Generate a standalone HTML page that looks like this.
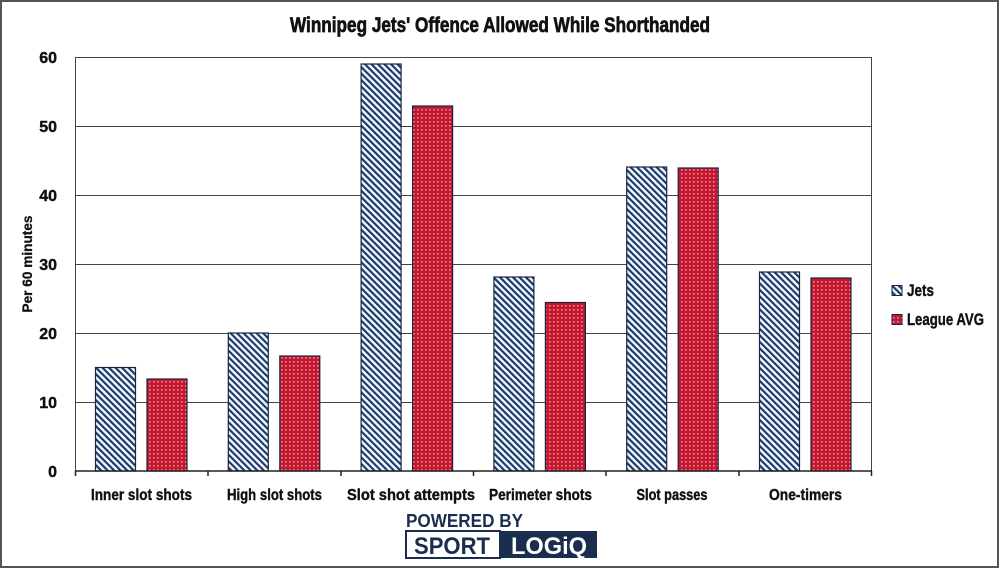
<!DOCTYPE html>
<html><head><meta charset="utf-8"><style>
html,body{margin:0;padding:0;background:#fff;}
svg{display:block;}
text{font-family:"Liberation Sans Narrow","Liberation Sans",sans-serif;font-weight:bold;fill:#111;}
</style></head><body>
<svg width="1000" height="569" viewBox="0 0 1000 569" xmlns="http://www.w3.org/2000/svg">
<defs>
<pattern id="stripe" patternUnits="userSpaceOnUse" width="4.6" height="4.6" patternTransform="rotate(-45)">
<rect width="4.6" height="4.6" fill="#eaf5fd"/>
<rect x="0" y="0" width="2.1" height="4.6" fill="#1c3563"/>
</pattern>
<pattern id="dots" patternUnits="userSpaceOnUse" width="4" height="4">
<rect width="4" height="4" fill="#c3182f"/>
<rect x="1" y="1" width="1.6" height="1.6" fill="#ee8a92"/>
</pattern>
</defs>
<rect x="0" y="0" width="1000" height="569" fill="#fff"/>
<rect x="1" y="1" width="997" height="566" fill="none" stroke="#555" stroke-width="2"/>

<text x="500" y="32" font-size="21" text-anchor="middle" textLength="420" lengthAdjust="spacingAndGlyphs" stroke="#111" stroke-width="0.7">Winnipeg Jets' Offence Allowed While Shorthanded</text>

<!-- grid -->
<g stroke="#444" stroke-width="1">
<line x1="75" y1="57.5" x2="872" y2="57.5"/>
<line x1="75" y1="126.5" x2="872" y2="126.5"/>
<line x1="75" y1="195.5" x2="872" y2="195.5"/>
<line x1="75" y1="264.5" x2="872" y2="264.5"/>
<line x1="75" y1="333.5" x2="872" y2="333.5"/>
<line x1="75" y1="402.5" x2="872" y2="402.5"/>
<line x1="75.5" y1="57" x2="75.5" y2="471"/>
<line x1="871.5" y1="57" x2="871.5" y2="471"/>
</g>

<!-- y labels -->
<g font-size="16" text-anchor="end" stroke="#111" stroke-width="0.4">
<text x="57" y="63">60</text>
<text x="57" y="132">50</text>
<text x="57" y="201">40</text>
<text x="57" y="270">30</text>
<text x="57" y="339">20</text>
<text x="57" y="408">10</text>
<text x="57" y="477">0</text>
</g>
<text transform="translate(32,264) rotate(-90)" font-size="14" text-anchor="middle" textLength="97" lengthAdjust="spacingAndGlyphs" stroke="#111" stroke-width="0.3">Per 60 minutes</text>

<!-- bars -->
<g stroke="#1a2540" stroke-width="1.2">
<rect x="95.5" y="367.5" width="40" height="103.5" fill="url(#stripe)"/>
<rect x="147" y="379" width="40" height="92" fill="url(#dots)"/>
<rect x="228.3" y="333" width="40" height="138" fill="url(#stripe)"/>
<rect x="279.8" y="356" width="40" height="115" fill="url(#dots)"/>
<rect x="361.1" y="64" width="40" height="407" fill="url(#stripe)"/>
<rect x="412.6" y="106" width="40" height="365" fill="url(#dots)"/>
<rect x="493.9" y="277" width="40" height="194" fill="url(#stripe)"/>
<rect x="545.4" y="302.5" width="40" height="168.5" fill="url(#dots)"/>
<rect x="626.7" y="167" width="40" height="304" fill="url(#stripe)"/>
<rect x="678.2" y="168" width="40" height="303" fill="url(#dots)"/>
<rect x="759.5" y="272" width="40" height="199" fill="url(#stripe)"/>
<rect x="811" y="278" width="40" height="193" fill="url(#dots)"/>
</g>

<!-- baseline and ticks -->
<g stroke="#222" stroke-width="1.5">
<line x1="75" y1="471" x2="872" y2="471"/>
<line x1="75.5" y1="471" x2="75.5" y2="476"/>
<line x1="208" y1="471" x2="208" y2="476"/>
<line x1="341" y1="471" x2="341" y2="476"/>
<line x1="473.5" y1="471" x2="473.5" y2="476"/>
<line x1="606" y1="471" x2="606" y2="476"/>
<line x1="739" y1="471" x2="739" y2="476"/>
<line x1="871.5" y1="471" x2="871.5" y2="476"/>
</g>

<!-- x labels -->
<g font-size="16" text-anchor="middle" stroke="#111" stroke-width="0.4">
<text x="141.5" y="500" textLength="101" lengthAdjust="spacingAndGlyphs">Inner slot shots</text>
<text x="274.5" y="500" textLength="95" lengthAdjust="spacingAndGlyphs">High slot shots</text>
<text x="411" y="500" textLength="128" lengthAdjust="spacingAndGlyphs">Slot shot attempts</text>
<text x="540.5" y="500" textLength="103" lengthAdjust="spacingAndGlyphs">Perimeter shots</text>
<text x="672" y="500" textLength="71" lengthAdjust="spacingAndGlyphs">Slot passes</text>
<text x="805.5" y="500" textLength="73" lengthAdjust="spacingAndGlyphs">One-timers</text>
</g>

<!-- legend -->
<rect x="892" y="285.5" width="10" height="10" fill="url(#stripe)" stroke="#1a2540" stroke-width="1"/>
<text x="907" y="296" font-size="17" textLength="27" lengthAdjust="spacingAndGlyphs" stroke="#111" stroke-width="0.4">Jets</text>
<rect x="892" y="314.5" width="10" height="10" fill="url(#dots)" stroke="#1a2540" stroke-width="1"/>
<text x="907" y="325" font-size="17" textLength="77" lengthAdjust="spacingAndGlyphs" stroke="#111" stroke-width="0.4">League AVG</text>

<!-- logo -->
<text x="406" y="527" font-size="18" style="font-family:'Liberation Sans',sans-serif;fill:#1b2d4f" textLength="117" lengthAdjust="spacingAndGlyphs">POWERED BY</text>
<rect x="406" y="531" width="94" height="27" fill="#fff" stroke="#1b2d4f" stroke-width="2"/>
<rect x="500" y="531" width="97" height="27" fill="#1b2d4f"/>
<text x="414" y="554" font-size="24" style="font-family:'Liberation Sans',sans-serif;fill:#1b2d4f" textLength="76" lengthAdjust="spacingAndGlyphs">SPORT</text>
<text x="511" y="554" font-size="24" style="font-family:'Liberation Sans',sans-serif;fill:#fff" textLength="76" lengthAdjust="spacingAndGlyphs">LOGiQ</text>
</svg>
</body></html>
